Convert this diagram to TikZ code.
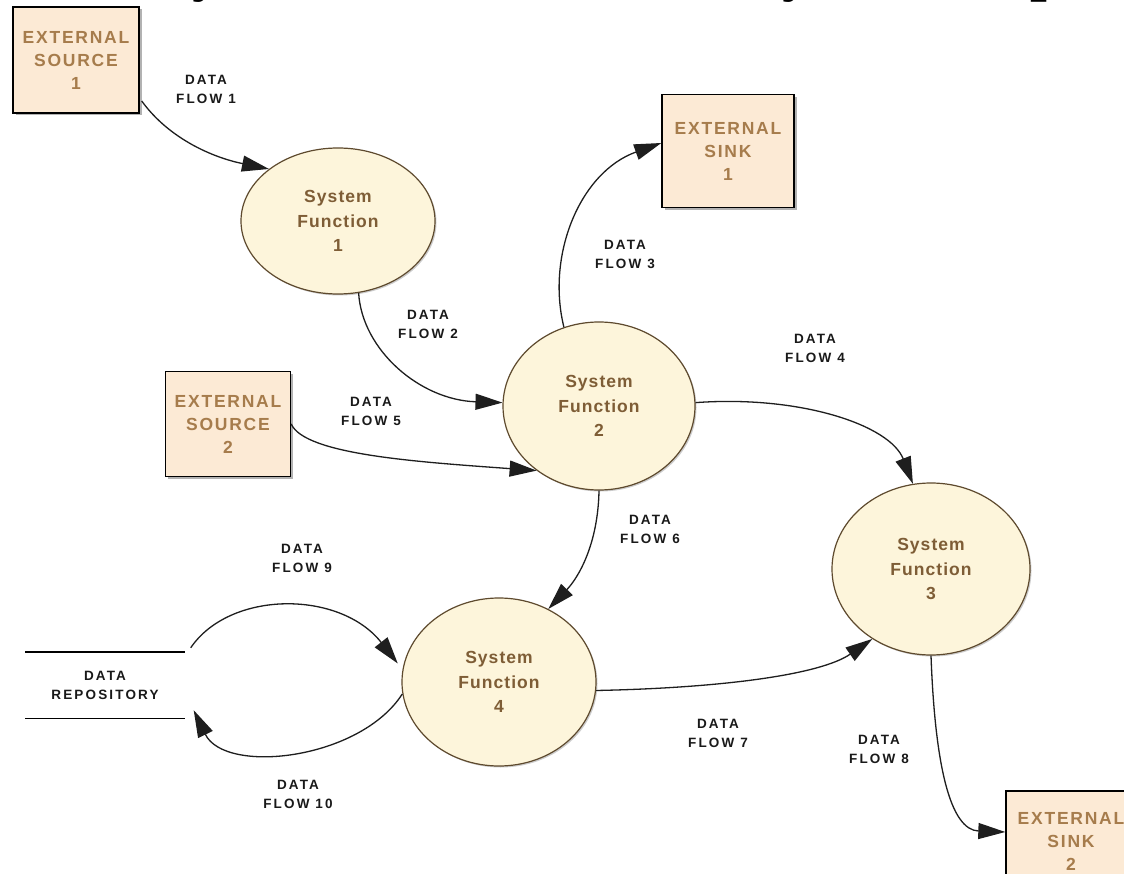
\documentclass[tikz,border=0pt]{standalone}
\usepackage{fontspec}
\setmainfont{Liberation Sans}
\newfontfamily\flowfont[LetterSpace=16]{Liberation Sans}
\newfontfamily\boxfont[LetterSpace=10]{Liberation Sans}
\newfontfamily\funcfont[LetterSpace=6]{Liberation Sans}
\newfontfamily\titlefont{Liberation Serif}
\usetikzlibrary{shapes.geometric,arrows.meta,calc,shadows}
\definecolor{boxfill}{HTML}{FCEAD5}
\definecolor{ellfill}{HTML}{FDF5DB}
\definecolor{boxtext}{HTML}{A67C4C}
\definecolor{elltext}{HTML}{7E5D36}
\definecolor{ellline}{HTML}{5E4A2E}
\definecolor{flowline}{HTML}{1E1E1E}
\begin{document}
\begin{tikzpicture}[x=1pt,y=-1pt,
 extbox/.style={rectangle, draw=black, line width=1.4pt, fill=boxfill, align=center,
   text=boxtext, font=\boxfont\bfseries\fontsize{17.5}{23}\selectfont, inner sep=0pt,
   drop shadow={shadow xshift=2.5pt, shadow yshift=-2.5pt, fill=black, opacity=0.3}},
 func/.style={ellipse, draw=ellline, line width=1.2pt, fill=ellfill, align=center,
   text=elltext, font=\funcfont\bfseries\fontsize{17.5}{24.5}\selectfont, inner sep=0pt,
   drop shadow={shadow xshift=1.5pt, shadow yshift=-1.5pt, fill=black, opacity=0.2}},
 flowlabel/.style={align=center, font=\flowfont\bfseries\fontsize{13.5}{19}\selectfont,
   text=black!90, inner sep=0pt},
 flow/.style={draw=flowline, line width=1.3pt, -{Triangle[length=27pt,width=16pt]}},
 titlefrag/.style={anchor=base, inner sep=0pt, font=\titlefont\bfseries\fontsize{60}{60}\selectfont}
]
\useasboundingbox (0,0) rectangle (1124,874);
\fill[white] (0,0) rectangle (1124,874);

% cut-off title fragments
\begin{scope}
\clip (0,0) rectangle (1124,874);
\node[titlefrag] (t1) at (207,-10) {y};
\node[titlefrag] (t2) at (797,-10) {y};
\node[titlefrag] (t3) at (1047,-10) {p};
\end{scope}

% external entities
\node[extbox, minimum width=126pt, minimum height=106pt] (es1) at (76,60) {EXTERNAL\\SOURCE\\1};
\node[extbox, minimum width=132pt, minimum height=113pt] (sk1) at (728,151) {EXTERNAL\\SINK\\1};
\node[extbox, minimum width=125pt, minimum height=105pt] (es2) at (228,424) {EXTERNAL\\SOURCE\\2};
\node[extbox, minimum width=130pt, minimum height=100pt] (sk2) at (1071,841) {EXTERNAL\\SINK\\2};

% processes
\node[func, minimum width=194pt, minimum height=146pt] (sf1) at (338,221) {System\\Function\\1};
\node[func, minimum width=192pt, minimum height=168pt] (sf2) at (599,406) {System\\Function\\2};
\node[func, minimum width=198pt, minimum height=172pt] (sf3) at (931,569) {System\\Function\\3};
\node[func, minimum width=194pt, minimum height=168pt] (sf4) at (499,682) {System\\Function\\4};

% data repository
\node[flowlabel, minimum width=159pt, minimum height=66pt] (repo) at (105,685) {DATA\\REPOSITORY};
\draw[line width=1.4pt] (repo.north west) -- (repo.north east);
\draw[line width=1.4pt] (repo.south west) -- (repo.south east);
\coordinate (r9) at ($(repo.north east)+(6,-4)$);
\coordinate (r10) at ($(repo.south east)+(9,-8)$);

% flows
\draw[flow] ($(es1.east)+(2,41)$) .. controls (170,140) and (215,158) .. (sf1.143);
\draw[flow] (sf1.-74) .. controls (362,350) and (420,400) .. (sf2.178);
\draw[flow] (sf2.114) .. controls (546,255) and (580,172) .. ($(sk1.west)+(0,-8)$);
\draw[flow] (sf2.2) .. controls (800,395) and (890,425) .. (sf3.102);
\draw[flow] (es2.east) .. controls (305,455) and (420,462) .. (sf2.226);
\draw[flow] (sf2.270) .. controls (598,545) and (578,578) .. (sf4.56);
\draw[flow] (sf4.-5) .. controls (720,688) and (820,675) .. (sf3.230);
\draw[flow] (sf3.270) .. controls (935,765) and (950,830) .. ($(sk2.west)+(0,-9)$);
\draw[flow] (r9) .. controls (230,590) and (340,590) .. ($(sf4.169)+(-6,0)$);
\draw[flow] (sf4.187) .. controls (360,760) and (225,775) .. (r10);

% flow labels
\node[flowlabel] (l1) at (206,89) {DATA\\FLOW 1};
\node[flowlabel] (l2) at (428,324) {DATA\\FLOW 2};
\node[flowlabel] (l3) at (625,254) {DATA\\FLOW 3};
\node[flowlabel] (l4) at (815,348) {DATA\\FLOW 4};
\node[flowlabel] (l5) at (371,411) {DATA\\FLOW 5};
\node[flowlabel] (l6) at (650,529) {DATA\\FLOW 6};
\node[flowlabel] (l7) at (718,733) {DATA\\FLOW 7};
\node[flowlabel] (l8) at (879,749) {DATA\\FLOW 8};
\node[flowlabel] (l9) at (302,558) {DATA\\FLOW 9};
\node[flowlabel] (l10) at (298,794) {DATA\\FLOW 10};
\end{tikzpicture}
\end{document}
